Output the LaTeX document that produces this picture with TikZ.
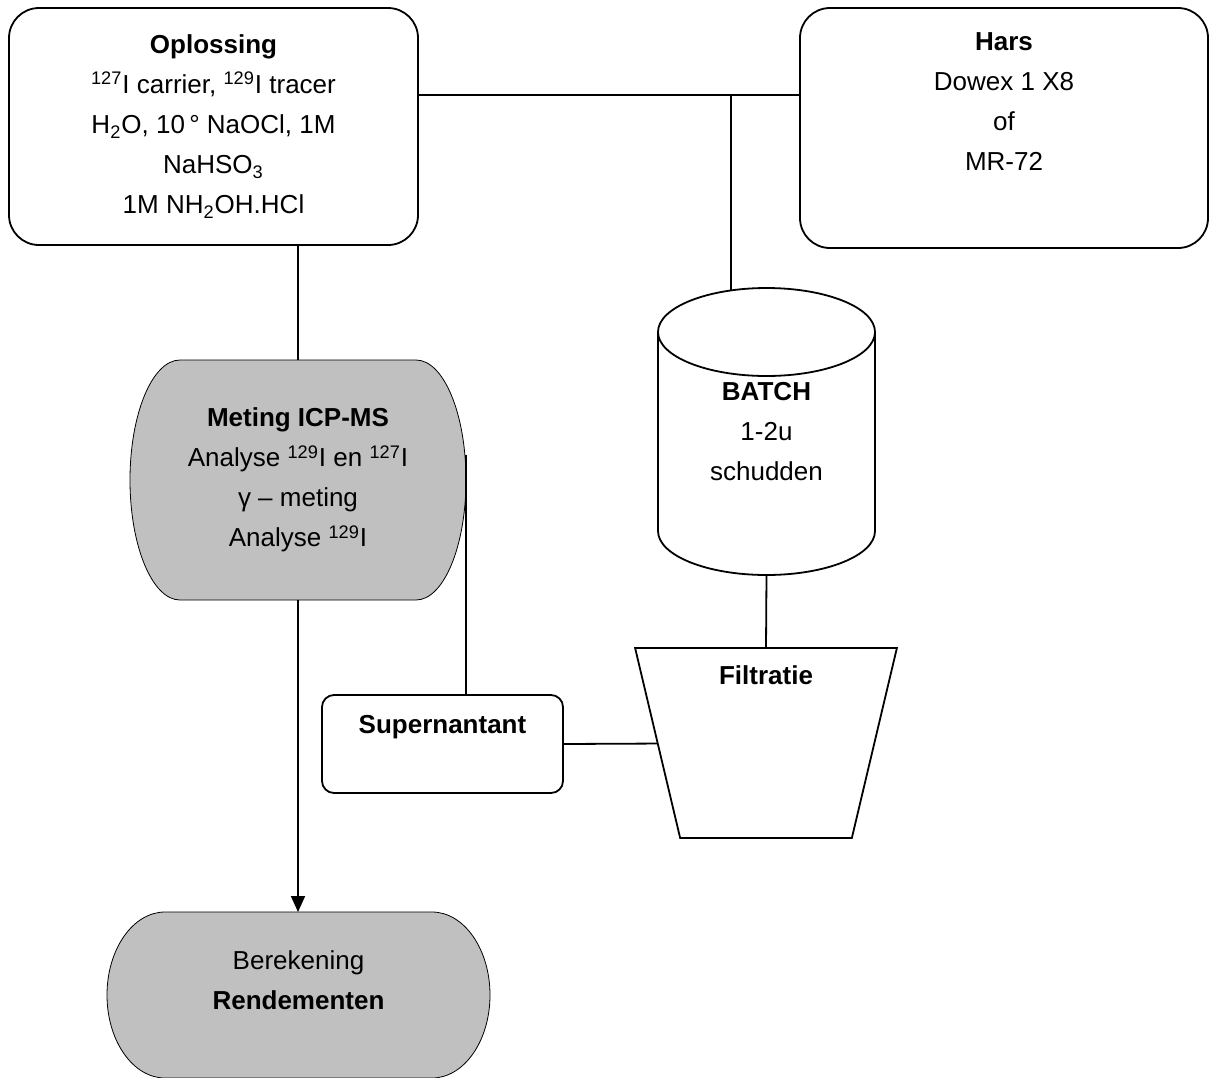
\documentclass[tikz,border=0pt]{standalone}
\usepackage{fontspec}
\setmainfont{Liberation Sans}
\usetikzlibrary{arrows.meta,shapes.geometric,backgrounds}
\definecolor{procgray}{RGB}{192,192,192}
\tikzset{
  txt/.style={align=center,font=\fontsize{13}{20}\selectfont},
  rbox/.style={draw,rounded corners=15pt,txt},
}
\begin{document}
\begin{tikzpicture}[x=.5pt,y=-.5pt,line width=.9pt,outer sep=0pt]
\useasboundingbox (0,0) rectangle (1216,1077);
% grey process shapes: flat top/bottom, bulging sides
\def\drumpath#1#2#3{([xshift=#2]#1.north west) -- ([xshift=-#2]#1.north east)
  arc[start angle=90,end angle=-90,x radius=#2,y radius=#3]
  -- ([xshift=#2]#1.south west)
  arc[start angle=270,end angle=90,x radius=#2,y radius=#3] -- cycle}
\node[rbox,minimum width=204.5pt,minimum height=118.5pt] (oplos) at (213.5,126.5)
  {\textbf{Oplossing}\\\textsuperscript{127}I carrier, \textsuperscript{129}I tracer\\H\textsubscript{2}O, 10\,° NaOCl, 1M\\NaHSO\textsubscript{3}\\1M NH\textsubscript{2}OH.HCl};
\node[rbox,minimum width=204pt,minimum height=120pt] (hars) at (1004,128) {};
\node[txt] (harstxt) at (1004,102) {\textbf{Hars}\\Dowex 1 X8\\of\\MR-72};
\node[txt,minimum width=168pt,minimum height=120pt] (meting) at (298,480)
  {\textbf{Meting ICP-MS}\\Analyse \textsuperscript{129}I en \textsuperscript{127}I\\γ -- meting\\Analyse \textsuperscript{129}I};
\node[txt,minimum width=108.5pt,minimum height=143.5pt] (batch) at (766.5,431.5)
  {\textbf{BATCH}\\1-2u\\schudden};
\node[draw,trapezium,shape border rotate=180,trapezium left angle=75.3,
  trapezium right angle=75.3,trapezium stretches=true,
  minimum width=131pt,minimum height=95pt] (filt) at (766,743) {};
\node[txt] (filttxt) at (766,675) {\textbf{Filtratie}};
\node[draw,rounded corners=6pt,minimum width=120.5pt,minimum height=49pt] (super) at (442.5,744) {};
\node[txt] (supertxt) at (442.5,727) {\textbf{Supernantant}};
\node[minimum width=191.5pt,minimum height=83pt] (berek) at (298.5,995) {};
\begin{scope}[on background layer]
\draw[fill=procgray] \drumpath{meting}{25pt}{60pt};
\draw[fill=procgray] \drumpath{berek}{29pt}{41.5pt};
\end{scope}
\node[txt] (berektxt) at (298.5,980) {Berekening\\\textbf{Rendementen}};
% cylinder
\draw ([yshift=-22pt]batch.north west)
  arc[start angle=180,end angle=360,x radius=54.25pt,y radius=22pt]
  arc[start angle=0,end angle=180,x radius=54.25pt,y radius=22pt]
  -- ([yshift=22pt]batch.south west)
  arc[start angle=180,end angle=360,x radius=54.25pt,y radius=22pt]
  -- ([yshift=-22pt]batch.north east);
% connectors
\coordinate (jct) at (731,95);
\draw (jct -| oplos.east) -- (jct -| hars.west);
\draw (jct) -- ([yshift=-1.5pt]jct |- batch.north);
\draw (oplos.south -| meting.north) -- (meting.north);
\draw ([yshift=12.5pt]meting.east) -- (meting.east |- super.north);
\draw[-{Triangle[width=7pt,length=8pt]}] (meting.south) -- (meting.south |- berek.north);
\draw (batch.south) -- (filt.north);
\draw (super.east) -- (filt);
\end{tikzpicture}
\end{document}
